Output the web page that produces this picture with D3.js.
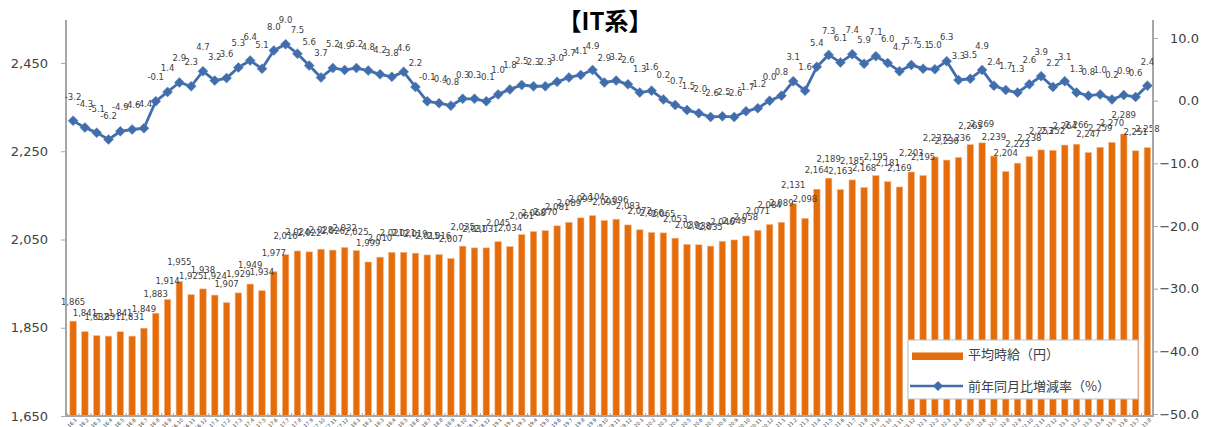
<!DOCTYPE html>
<html><head><meta charset="utf-8">
<script src="https://cdn.jsdelivr.net/npm/d3@7"></script>
<style>body{margin:0;background:#fff}svg{display:block}</style>
</head><body>
<svg id="c" width="1209" height="427"></svg>
<script>
const months = ["16.1","16.2","16.3","16.4","16.5","16.6","16.7","16.8","16.9","16.10","16.11","16.12",
"17.1","17.2","17.3","17.4","17.5","17.6","17.7","17.8","17.9","17.10","17.11","17.12",
"18.1","18.2","18.3","18.4","18.5","18.6","18.7","18.8","18.9","18.10","18.11","18.12",
"19.1","19.2","19.3","19.4","19.5","19.6","19.7","19.8","19.9","19.10","19.11","19.12",
"20.1","20.2","20.3","20.4","20.5","20.6","20.7","20.8","20.9","20.10","20.11","20.12",
"21.1","21.2","21.3","21.4","21.5","21.6","21.7","21.8","21.9","21.10","21.11","21.12",
"22.1","22.2","22.3","22.4","22.5","22.6","22.7","22.8","22.9","22.10","22.11","22.12",
"23.1","23.2","23.3","23.4","23.5","23.6","23.7","23.8"];
const wage = [1865,1841,1832,1831,1841,1831,1849,1883,1914,1955,1925,1938,
1924,1907,1929,1949,1934,1977,2016,2024,2022,2028,2026,2032,
2025,1999,2010,2021,2021,2019,2015,2016,2007,2035,2031,2031,
2045,2034,2061,2068,2070,2081,2089,2099,2104,2093,2096,2083,
2072,2066,2065,2053,2039,2038,2035,2046,2049,2058,2071,2084,
2089,2131,2098,2164,2189,2163,2185,2168,2195,2181,2169,2203,
2195,2237,2230,2236,2265,2269,2239,2204,2223,2238,2253,2252,
2264,2266,2247,2259,2270,2289,2251,2258];
const yoy = [-3.2,-4.3,-5.1,-6.2,-4.9,-4.6,-4.4,-0.1,1.4,2.9,2.3,4.7,
3.2,3.6,5.3,6.4,5.1,8.0,9.0,7.5,5.6,3.7,5.2,4.9,
5.2,4.8,4.2,3.8,4.6,2.2,-0.1,-0.4,-0.8,0.3,0.3,-0.1,
1.0,1.8,2.5,2.3,2.3,3.0,3.7,4.1,4.9,2.9,3.2,2.6,
1.3,1.6,0.2,-0.7,-1.5,-2.0,-2.6,-2.5,-2.6,-1.7,-1.2,0.0,
0.8,3.1,1.6,5.4,7.3,6.1,7.4,5.9,7.1,6.0,4.7,5.7,
5.1,5.0,6.3,3.3,3.5,4.9,2.4,1.7,1.3,2.6,3.9,2.2,
3.1,1.3,0.8,1.0,0.2,0.9,0.6,2.4];
const leftTicks = [1650,1850,2050,2250,2450];
const rightTicks = [-50,-40,-30,-20,-10,0,10];
const title = "【IT系】";
const legendLabels = ["平均時給（円）","前年同月比増減率（%）"];

const barColor = "#E46C0A", lineColor = "#416EAB", axisColor = "#A6A6A6", textColor = "#404040";
const svg = d3.select("#c");
const x = d3.scaleBand().domain(months).range([67.5, 1153]).paddingInner(0.45).paddingOuter(0.2);
const yL = d3.scaleLinear().domain([1650, 2450]).range([416, 63]);
const yR = d3.scaleLinear().domain([-50, 10]).range([414, 38]);
const fmt = d3.format(",");
const font = "'DejaVu Sans', Verdana, sans-serif";

// title
svg.append("text").attr("x", 605).attr("y", 30).attr("text-anchor", "middle")
  .attr("font-family", "'Noto Sans CJK JP', sans-serif").attr("font-weight", "bold")
  .attr("font-size", 24).attr("fill", "#000").text(title);

// bars
svg.append("g").selectAll("rect").data(wage).join("rect")
  .attr("x", (d, i) => x(months[i])).attr("width", x.bandwidth())
  .attr("y", d => yL(d)).attr("height", d => 416 - yL(d))
  .attr("fill", barColor).attr("stroke", "#F5B98A").attr("stroke-width", 0.6);

// bar labels
svg.append("g").selectAll("text").data(wage).join("text")
  .attr("x", (d, i) => x(months[i]) + x.bandwidth() / 2).attr("y", d => yL(d) - 16)
  .attr("text-anchor", "middle").attr("font-family", font).attr("font-size", 8.5)
  .attr("fill", textColor).text(d => fmt(d));

// axes
const gL = svg.append("g").attr("transform", "translate(66,0)")
  .call(d3.axisLeft(yL).tickValues(leftTicks).tickFormat(fmt).tickSize(5).tickPadding(13));
gL.select(".domain").remove();
gL.append("line").attr("x1", 0).attr("x2", 0).attr("y1", 20).attr("y2", 416).attr("stroke", axisColor).attr("stroke-width", 2);
gL.selectAll(".tick line").attr("stroke", axisColor);
gL.selectAll(".tick text").attr("font-family", font).attr("font-size", 13).attr("fill", textColor);

const gR = svg.append("g").attr("transform", "translate(1153,0)")
  .call(d3.axisRight(yR).tickValues(rightTicks).tickFormat(d3.format(".1f")).tickSize(5).tickPadding(12));
gR.select(".domain").remove();
gR.append("line").attr("x1", 0).attr("x2", 0).attr("y1", 20).attr("y2", 416).attr("stroke", axisColor).attr("stroke-width", 2);
gR.selectAll(".tick line").attr("stroke", axisColor);
gR.selectAll(".tick text").attr("font-family", font).attr("font-size", 13).attr("fill", textColor)
  .attr("text-anchor", "end").attr("x", 46);

// x axis
const gX = svg.append("g").attr("transform", "translate(0,416)");
gX.append("line").attr("x1", 65).attr("x2", 1154).attr("y1", 0).attr("y2", 0).attr("stroke", axisColor).attr("stroke-width", 2);
const step = x.step();
gX.selectAll("line.t").data(months).join("line").attr("class", "t")
  .attr("x1", d => x(d) - (step - x.bandwidth()) / 2).attr("x2", d => x(d) - (step - x.bandwidth()) / 2)
  .attr("y1", -3).attr("y2", 0).attr("stroke", axisColor);
gX.selectAll("text").data(months).join("text")
  .attr("transform", d => `translate(${x(d) + x.bandwidth() / 2 + 3},${3}) rotate(-45)`)
  .attr("text-anchor", "end").attr("dy", "0.35em").attr("font-family", font).attr("font-size", 5)
  .attr("fill", textColor).text(d => d);

// line
const cx = (i) => x(months[i]) + x.bandwidth() / 2;
const line = d3.line().x((d, i) => cx(i)).y(d => yR(d));
svg.append("path").datum(yoy).attr("d", line).attr("fill", "none")
  .attr("stroke", lineColor).attr("stroke-width", 2.8).attr("stroke-linejoin", "round");
const diamond = (s) => `M0,${-s}L${s},0L0,${s}L${-s},0Z`;
svg.append("g").selectAll("path").data(yoy).join("path")
  .attr("transform", (d, i) => `translate(${cx(i)},${yR(d)})`).attr("d", diamond(5))
  .attr("fill", lineColor).attr("stroke", "#5A86C0").attr("stroke-width", 0.5);
svg.append("g").selectAll("text").data(yoy).join("text")
  .attr("x", (d, i) => cx(i)).attr("y", d => yR(d) - 21)
  .attr("text-anchor", "middle").attr("font-family", font).attr("font-size", 8.5)
  .attr("fill", textColor).text(d => d.toFixed(1));

// legend
const lg = svg.append("g");
lg.append("rect").attr("x", 908).attr("y", 340).attr("width", 230).attr("height", 59)
  .attr("fill", "#fff").attr("stroke", "#BFBFBF").attr("stroke-width", 1);
lg.append("rect").attr("x", 912).attr("y", 352.5).attr("width", 51).attr("height", 7.5).attr("fill", barColor);
lg.append("text").attr("x", 968).attr("y", 358.5).attr("font-family", "'Noto Sans CJK JP', sans-serif")
  .attr("font-size", 13).attr("fill", textColor).text(legendLabels[0]);
lg.append("line").attr("x1", 910).attr("x2", 963).attr("y1", 386).attr("y2", 386)
  .attr("stroke", lineColor).attr("stroke-width", 2.5);
lg.append("path").attr("transform", "translate(938,386)").attr("d", diamond(5)).attr("fill", lineColor);
lg.append("text").attr("x", 968).attr("y", 391).attr("font-family", "'Noto Sans CJK JP', sans-serif")
  .attr("font-size", 13).attr("fill", textColor).text(legendLabels[1]);
</script>
</body></html>
